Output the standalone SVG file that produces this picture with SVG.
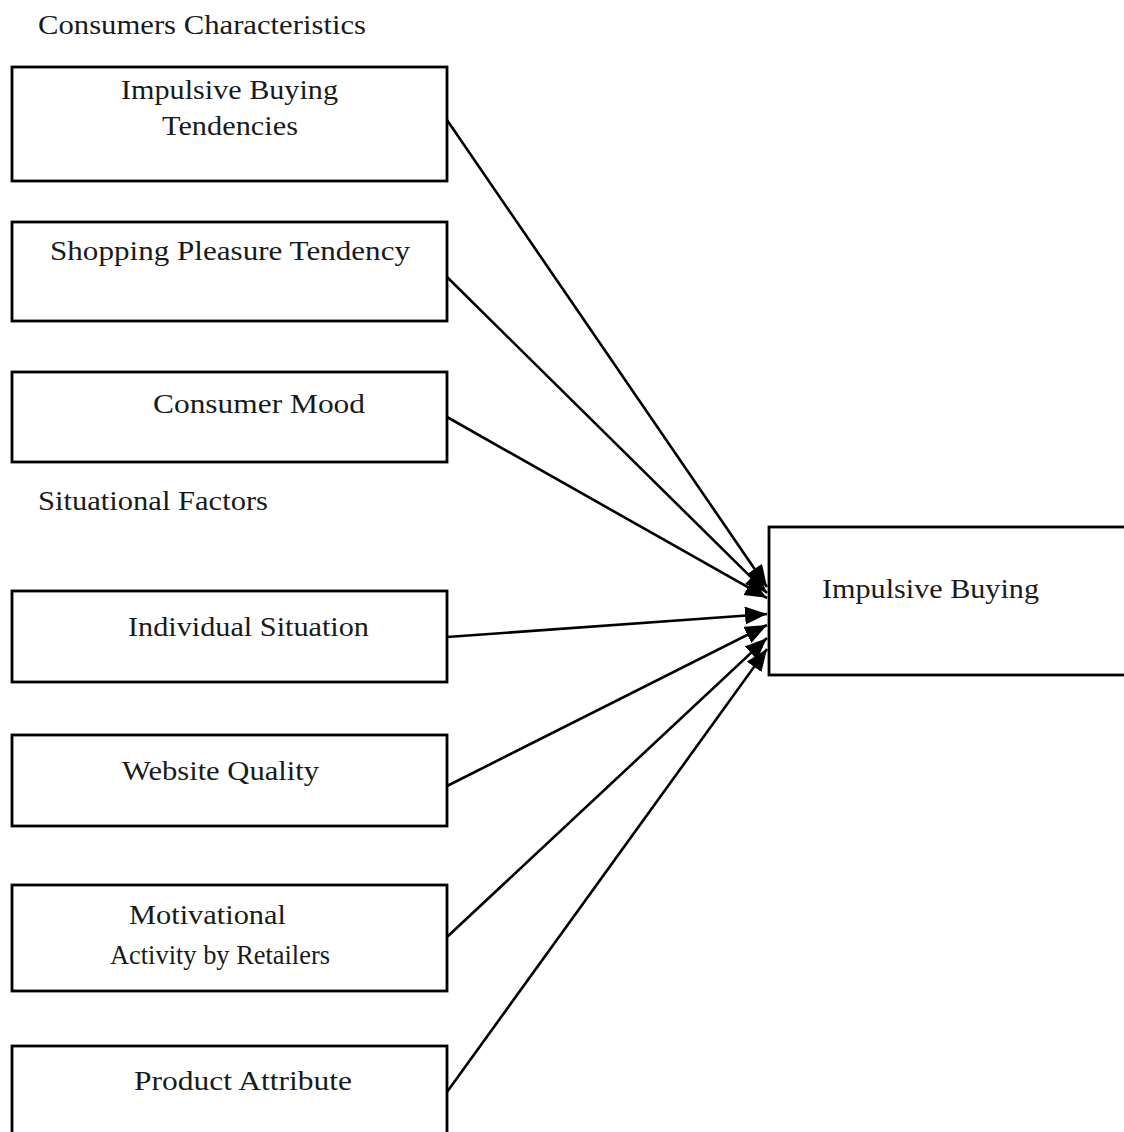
<svg xmlns="http://www.w3.org/2000/svg" width="1124" height="1132" viewBox="0 0 1124 1132">
<style>
.box{fill:#fff;stroke:#000;stroke-width:2.8}
.t{font-family:"Liberation Serif","Times New Roman",serif;font-size:28px;fill:#1a1a1a}
.c{stroke:#000;stroke-width:2.6;fill:none;marker-end:url(#ah)}
</style>
<defs>
<marker id="ah" markerUnits="userSpaceOnUse" markerWidth="26" markerHeight="20" refX="22" refY="9" orient="auto">
<path d="M0,0 L22,9 L0,18 Z" fill="#000"/>
</marker>
</defs>
<rect width="1124" height="1132" fill="#fff"/>
<text class="t" x="38" y="34" textLength="328" lengthAdjust="spacingAndGlyphs">Consumers Characteristics</text>
<text class="t" x="38" y="510" textLength="230" lengthAdjust="spacingAndGlyphs">Situational Factors</text>
<g id="n1"><rect class="box" x="12" y="67" width="435" height="114"/>
<text class="t" x="121" y="99" textLength="217" lengthAdjust="spacingAndGlyphs">Impulsive Buying</text>
<text class="t" x="162" y="135" textLength="136" lengthAdjust="spacingAndGlyphs">Tendencies</text></g>
<g id="n2"><rect class="box" x="12" y="222" width="435" height="99"/>
<text class="t" x="50" y="260" textLength="360" lengthAdjust="spacingAndGlyphs">Shopping Pleasure Tendency</text></g>
<g id="n3"><rect class="box" x="12" y="372" width="435" height="90"/>
<text class="t" x="153" y="413" textLength="212" lengthAdjust="spacingAndGlyphs">Consumer Mood</text></g>
<g id="n4"><rect class="box" x="12" y="591" width="435" height="91"/>
<text class="t" x="128" y="636" textLength="241" lengthAdjust="spacingAndGlyphs">Individual Situation</text></g>
<g id="n5"><rect class="box" x="12" y="735" width="435" height="91"/>
<text class="t" x="122" y="780" textLength="197" lengthAdjust="spacingAndGlyphs">Website Quality</text></g>
<g id="n6"><rect class="box" x="12" y="885" width="435" height="106"/>
<text class="t" x="129" y="924" textLength="157" lengthAdjust="spacingAndGlyphs">Motivational</text>
<text class="t" x="110" y="964" textLength="220" lengthAdjust="spacingAndGlyphs">Activity by Retailers</text></g>
<g id="n7"><rect class="box" x="12" y="1046" width="435" height="100"/>
<text class="t" x="134" y="1090" textLength="218" lengthAdjust="spacingAndGlyphs">Product Attribute</text></g>
<g id="n8"><rect class="box" x="769" y="527" width="360" height="148"/>
<text class="t" x="822" y="598" textLength="217" lengthAdjust="spacingAndGlyphs">Impulsive Buying</text></g>
<g id="connectors">
<line class="c" x1="447" y1="120" x2="767" y2="587"/>
<line class="c" x1="447" y1="277" x2="767" y2="593"/>
<line class="c" x1="447" y1="417" x2="767" y2="598"/>
<line class="c" x1="447" y1="637" x2="767" y2="614"/>
<line class="c" x1="447" y1="786" x2="767" y2="625"/>
<line class="c" x1="447" y1="937" x2="767" y2="638"/>
<line class="c" x1="447" y1="1092" x2="767" y2="649"/>
</g>
</svg>
